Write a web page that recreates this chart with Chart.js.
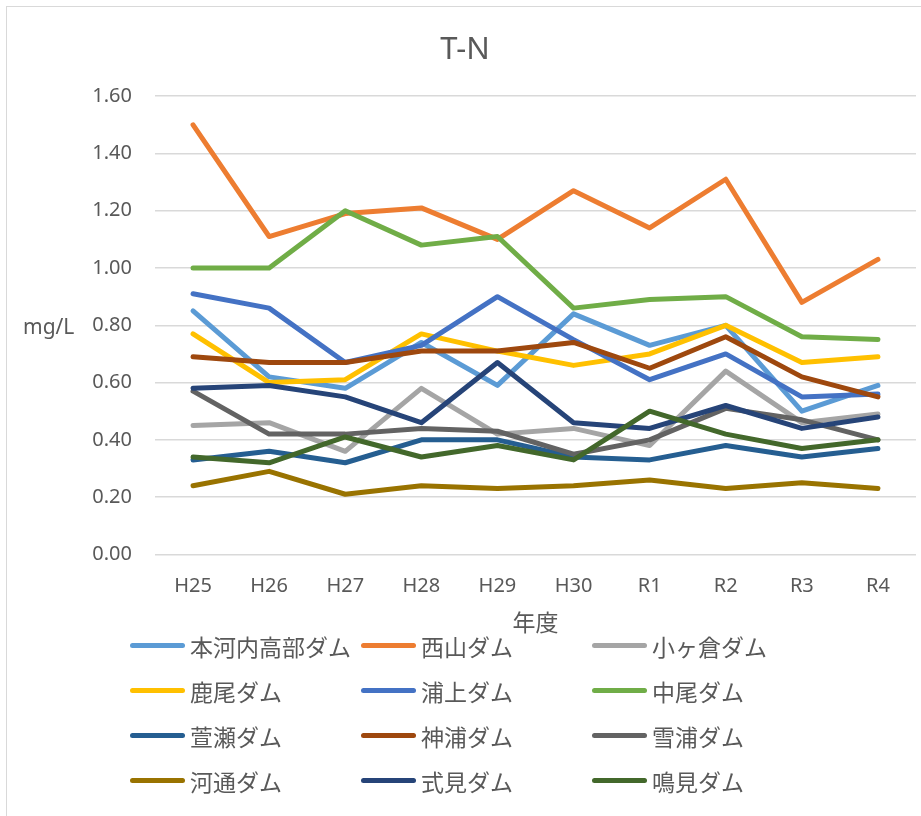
<!DOCTYPE html>
<html>
<head>
<meta charset="utf-8">
<script src="https://cdn.jsdelivr.net/npm/chart.js@4.4.1/dist/chart.umd.min.js"></script>
<style>
    html, body { margin: 0; padding: 0; background: #fff; }
    #wrap { position: relative; width: 921px; height: 816px; overflow: hidden; }
    #frame { position: absolute; left: 6px; top: 6px; width: 940px; height: 840px; border: 1.5px solid #d9d9d9; box-sizing: border-box; }
    #chart { position: absolute; left: 0; top: 0; }
    #unit { position: absolute; left: 23px; top: 312px; font: 21px "Noto Sans", sans-serif; color: #595959; }
    #legend { position: absolute; left: 130px; top: 623px; display: grid; grid-template-columns: 231px 231px 231px; grid-auto-rows: 45px; }
    .item { display: flex; align-items: center; font: 23px "Noto Sans CJK JP", sans-serif; color: #595959; white-space: nowrap; }
    .swatch { width: 55px; height: 5px; border-radius: 3px; margin-right: 5px; }
</style>
</head>
<body>
<div id="wrap">
    <div id="frame"></div>
    <canvas id="chart" width="921" height="816"></canvas>
    <div id="unit">mg/L</div>
    <div id="legend"></div>
</div>
<script>
const years = ["H25", "H26", "H27", "H28", "H29", "H30", "R1", "R2", "R3", "R4"];
const yTicks = [0, 0.2, 0.4, 0.6, 0.8, 1.0, 1.2, 1.4, 1.6];

const motogochi = [0.85, 0.62, 0.58, 0.74, 0.59, 0.84, 0.73, 0.80, 0.50, 0.59];
const nishiyama = [1.50, 1.11, 1.19, 1.21, 1.10, 1.27, 1.14, 1.31, 0.88, 1.03];
const kokura = [0.45, 0.46, 0.36, 0.58, 0.42, 0.44, 0.38, 0.64, 0.46, 0.49];
const shishio = [0.77, 0.60, 0.61, 0.77, 0.71, 0.66, 0.70, 0.80, 0.67, 0.69];
const urakami = [0.91, 0.86, 0.67, 0.73, 0.90, 0.75, 0.61, 0.70, 0.55, 0.56];
const nakao = [1.00, 1.00, 1.20, 1.08, 1.11, 0.86, 0.89, 0.90, 0.76, 0.75];
const kayaze = [0.33, 0.36, 0.32, 0.40, 0.40, 0.34, 0.33, 0.38, 0.34, 0.37];
const konoura = [0.69, 0.67, 0.67, 0.71, 0.71, 0.74, 0.65, 0.76, 0.62, 0.55];
const yukiura = [0.57, 0.42, 0.42, 0.44, 0.43, 0.35, 0.40, 0.51, 0.47, 0.40];
const kawachi = [0.24, 0.29, 0.21, 0.24, 0.23, 0.24, 0.26, 0.23, 0.25, 0.23];
const shikimi = [0.58, 0.59, 0.55, 0.46, 0.67, 0.46, 0.44, 0.52, 0.44, 0.48];
const narumi = [0.34, 0.32, 0.41, 0.34, 0.38, 0.33, 0.50, 0.42, 0.37, 0.40];

const seriesNames = ["本河内高部ダム", "西山ダム", "小ヶ倉ダム", "鹿尾ダム", "浦上ダム", "中尾ダム",
    "萱瀬ダム", "神浦ダム", "雪浦ダム", "河通ダム", "式見ダム", "鳴見ダム"];
const seriesValues = [motogochi, nishiyama, kokura, shishio, urakami, nakao,
    kayaze, konoura, yukiura, kawachi, shikimi, narumi];

const colors = ["#5B9BD5", "#ED7D31", "#A5A5A5", "#FFC000", "#4472C4", "#70AD47",
    "#255E91", "#9E480E", "#636363", "#997300", "#264478", "#43682B"];

const tickFont = { family: "'Noto Sans', sans-serif", size: 20 };

const datasets = seriesNames.map((name, i) => ({
    label: name,
    data: seriesValues[i],
    borderColor: colors[i],
    backgroundColor: colors[i],
    borderWidth: 5,
    borderCapStyle: "round",
    borderJoinStyle: "round",
    pointRadius: 0,
    tension: 0,
    // excel draws later series on top
    order: seriesNames.length - i
}));

new Chart(document.getElementById("chart"), {
    type: "line",
    data: { labels: years, datasets },
    options: {
        responsive: false,
        animation: false,
        layout: { padding: { left: 14, right: 5, top: 0, bottom: 160 } },
        plugins: {
            legend: { display: false },
            tooltip: { enabled: false },
            title: {
                display: true,
                text: "T-N",
                color: "#595959",
                font: { family: "'Noto Sans', sans-serif", size: 31, weight: "normal" },
                padding: { top: 32, bottom: 27 }
            }
        },
        scales: {
            x: {
                offset: true,
                grid: { display: false, drawTicks: false },
                border: { display: false },
                ticks: { color: "#595959", font: tickFont, padding: 20, maxRotation: 0 },
                title: {
                    display: true,
                    text: "年度",
                    color: "#595959",
                    font: { family: "'Noto Sans CJK JP', sans-serif", size: 23 },
                    padding: { top: -10, bottom: 20 }
                }
            },
            y: {
                min: 0,
                max: 1.6,
                afterFit: (scale) => { scale.width = 141; },
                afterBuildTicks: (scale) => { scale.ticks = yTicks.map(v => ({ value: v })); },
                grid: { color: "#d9d9d9", lineWidth: 1.5, drawTicks: false },
                border: { display: false },
                ticks: {
                    color: "#595959",
                    font: tickFont,
                    padding: 23,
                    callback: (v) => Number(v).toFixed(2)
                }
            }
        }
    }
});

const legend = document.getElementById("legend");
seriesNames.forEach((name, i) => {
    const item = document.createElement("div");
    item.className = "item";
    const sw = document.createElement("span");
    sw.className = "swatch";
    sw.style.background = colors[i];
    item.appendChild(sw);
    item.appendChild(document.createTextNode(name));
    legend.appendChild(item);
});
</script>
</body>
</html>
